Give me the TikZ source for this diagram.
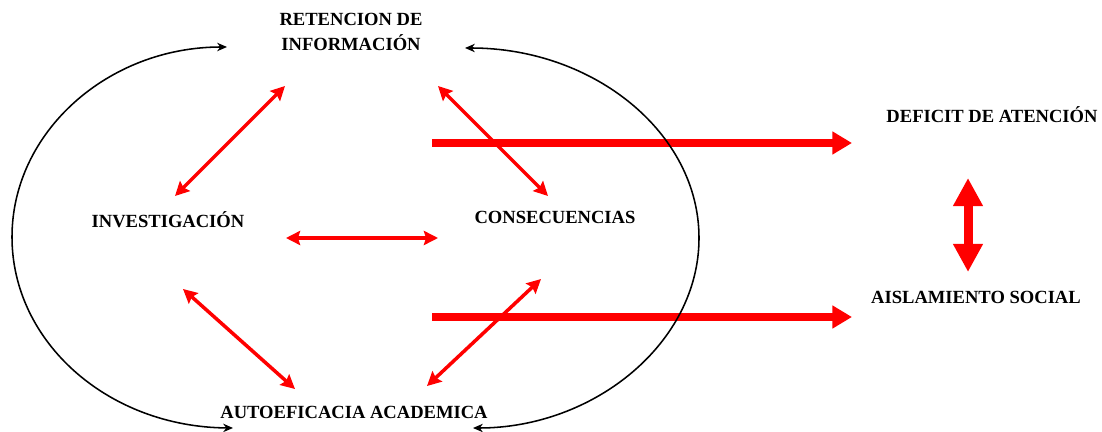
\documentclass[tikz,border=0pt]{standalone}
\usepackage{fontspec}
\setmainfont{Liberation Serif}
\usepackage{tikz}
\usetikzlibrary{arrows.meta}

\begin{document}
\begin{tikzpicture}[x=0.025cm,y=-0.025cm,
    lbl/.style={font=\bfseries\fontsize{13.2}{17.8}\selectfont,align=center,inner sep=0pt},
    redarr/.style={red,line width=2.5pt,{Stealth[length=10pt,width=10pt,inset=1.5pt]}-{Stealth[length=10pt,width=10pt,inset=1.5pt]}},
    bigarr/.style={red,line width=5pt,-{Triangle[length=14pt,width=15.6pt]}},
    duoarr/.style={red,line width=6.4pt,{Triangle[length=20pt,width=20pt]}-{Triangle[length=20pt,width=20pt]}},
    loop/.style={black,line width=1.1pt,{Stealth[length=7pt,width=6pt]}-{Stealth[length=7pt,width=6pt]}}]

    \useasboundingbox (0,0) rectangle (1102,432);

    \node[lbl]         (ret) at (351, 32)         {RETENCION DE\\INFORMACIÓN};
    \node[lbl]         (inv) at (168, 220)        {INVESTIGACIÓN};
    \node[lbl]         (con) at (555, 217)        {CONSECUENCIAS};
    \node[lbl]         (auto) at (354, 412)       {AUTOEFICACIA ACADEMICA};
    \node[lbl]         (def) at (992, 115)        {DEFICIT DE ATENCIÓN};
    \node[lbl]         (ais) at (976, 297)        {AISLAMIENTO SOCIAL};


    \draw ([shift={(-66,54)}]ret.center) edge[redarr]  ([shift={(7,-24)}]inv.center);
    \draw ([shift={(87,54)}]ret.center) edge[redarr]  ([shift={(-7,-21)}]con.center);
    \draw ([shift={(118,18)}]inv.center) edge[redarr]  ([shift={(-117,21)}]con.center);
    \draw ([shift={(15,69)}]inv.center) edge[redarr]  ([shift={(-59,-23)}]auto.center);
    \draw ([shift={(-14,62)}]con.center) edge[redarr]  ([shift={(73,-26)}]auto.center);
    \draw ([shift={(-123,-74)}]con.center) edge[bigarr]  ([shift={(-140,28)}]def.center);
    \draw ([shift={(-123,100)}]con.center) edge[bigarr]  ([shift={(-124,20)}]ais.center);
    \draw ([shift={(-24,63)}]def.center) edge[duoarr]  ([shift={(-8,-25)}]ais.center);

    \draw[loop] ([shift={(-124,15)}]ret.center) .. controls (108,47) and (12,132) .. (12,237)
        .. controls (12,342) and (108,427) .. ([shift={(-121,16)}]auto.center);
    \draw[loop] ([shift={(114,16)}]ret.center) .. controls (594,48) and (699,133) .. (699,238)
        .. controls (699,343) and (594,428) .. ([shift={(119,16)}]auto.center);
  \end{tikzpicture}
\end{document}
